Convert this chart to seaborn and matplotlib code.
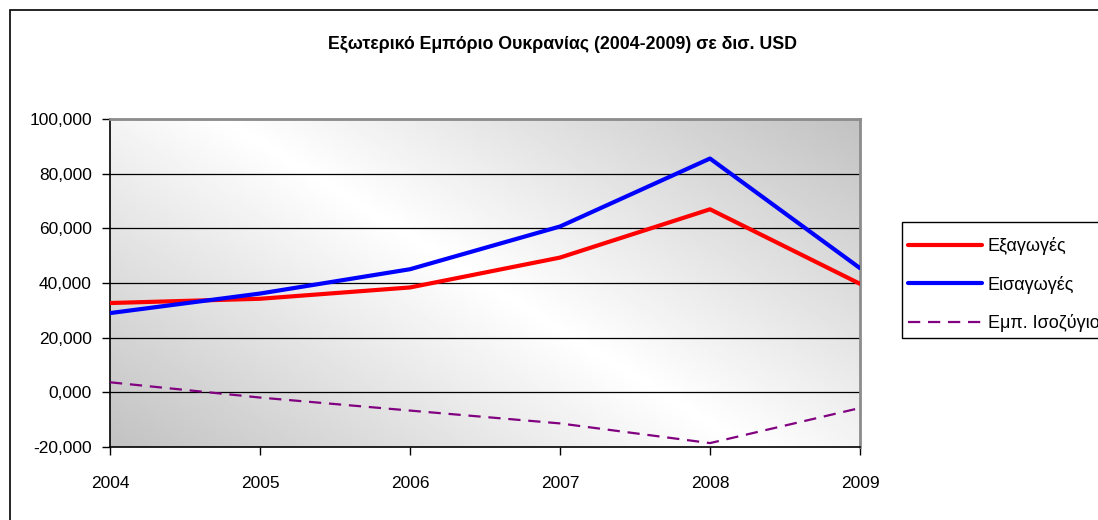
"""Ukraine foreign trade 2004-2009, Excel-style line chart."""
import matplotlib
matplotlib.use("Agg")
import matplotlib.pyplot as plt
import matplotlib.patches as mpatches
from matplotlib.ticker import FuncFormatter
import numpy as np
import pandas as pd
import seaborn as sns

years = [2004, 2005, 2006, 2007, 2008, 2009]
exports = [32.67, 34.23, 38.37, 49.30, 66.97, 39.70]
imports = [28.99, 36.14, 45.04, 60.67, 85.54, 45.43]
balance = [3.68, -1.91, -6.67, -11.37, -18.57, -5.73]

labels = ["Εξαγωγές", "Εισαγωγές", "Εμπ. Ισοζύγιο"]
title = "Εξωτερικό Εμπόριο Ουκρανίας (2004-2009) σε δισ. USD"

sns.set_style("white")
plt.rcParams['font.family'] = ['Liberation Sans', 'DejaVu Sans']
plt.rcParams['text.color'] = 'black'
plt.rcParams['xtick.color'] = 'black'
plt.rcParams['ytick.color'] = 'black'

W, H = 1098, 520
fig = plt.figure(figsize=(W / 100, H / 100), dpi=100)
ax = fig.add_axes([110 / W, 73 / H, 750 / W, 328 / H])

# diagonal grey-white-grey gradient like the Excel plot area
xn, yn = np.meshgrid(np.linspace(0, 1, 300), np.linspace(0, 1, 300))
u = np.abs((xn - 0.5) - 0.7 * (yn - 0.5)) / 0.85
grey = 1 - (1 - 0.76) * np.clip(u, 0, 1)
ax.imshow(grey, cmap='gray', vmin=0, vmax=1, extent=(0, 1, 0, 1),
          transform=ax.transAxes, aspect='auto', zorder=0, origin='upper')

df = pd.DataFrame({'year': years, 'exp': exports, 'imp': imports, 'bal': balance})
sns.lineplot(data=df, x='year', y='exp', color='#ff0000', lw=3, ax=ax, label=labels[0], zorder=3)
sns.lineplot(data=df, x='year', y='imp', color='#0000ff', lw=3, ax=ax, label=labels[1], zorder=3)
sns.lineplot(data=df, x='year', y='bal', color='#800080', lw=1.6, ax=ax, label=labels[2],
             zorder=3, dashes=False, linestyle=(0, (5.5, 3.5)))

ax.set_xlim(2004, 2009)
ax.set_ylim(-20, 100)
ax.set_xticks(years)
ax.set_yticks(range(-20, 101, 20))
ax.yaxis.set_major_formatter(FuncFormatter(lambda v, p: f"{v:.3f}".replace('.', ',')))
ax.set_xlabel('')
ax.set_ylabel('')
for y in range(0, 101, 20):
    ax.axhline(y, color='black', lw=0.9, zorder=2)

ax.tick_params(axis='y', length=6, width=1, direction='out', pad=7, labelsize=12.5, left=True)
ax.tick_params(axis='x', length=6, width=1, direction='out', pad=15, labelsize=12.5, bottom=True)
for side in ['left', 'bottom']:
    ax.spines[side].set_color('black')
    ax.spines[side].set_linewidth(1.2)
for side in ['top', 'right']:
    ax.spines[side].set_color('#8c8c8c')
    ax.spines[side].set_linewidth(2)

fig.text(562 / W, 1 - 44 / H, title, ha='center', va='center',
         fontsize=12.8, fontweight='bold')

# legend: frame drawn separately so the inner padding can match
ax.get_legend().remove()
fig.patches.append(mpatches.Rectangle((902 / W, 1 - 338 / H), 0.3, 116 / H,
                                      transform=fig.transFigure, fill=True,
                                      facecolor='white', edgecolor='black', lw=1))
fig.legend(loc='upper left', bbox_to_anchor=(908 / W, 1 - 237.5 / H),
           borderaxespad=0, borderpad=0, fontsize=13, frameon=False,
           handlelength=4.1, handletextpad=0.33, labelspacing=1.12)

# outer chart border (right/bottom edges fall outside the picture)
fig.patches.append(mpatches.Rectangle((10 / W, -0.1), 2, 1.1 - 10 / H,
                                      transform=fig.transFigure, fill=False,
                                      edgecolor='black', lw=1.2))

fig.savefig('out.png', dpi=100, facecolor='white')
